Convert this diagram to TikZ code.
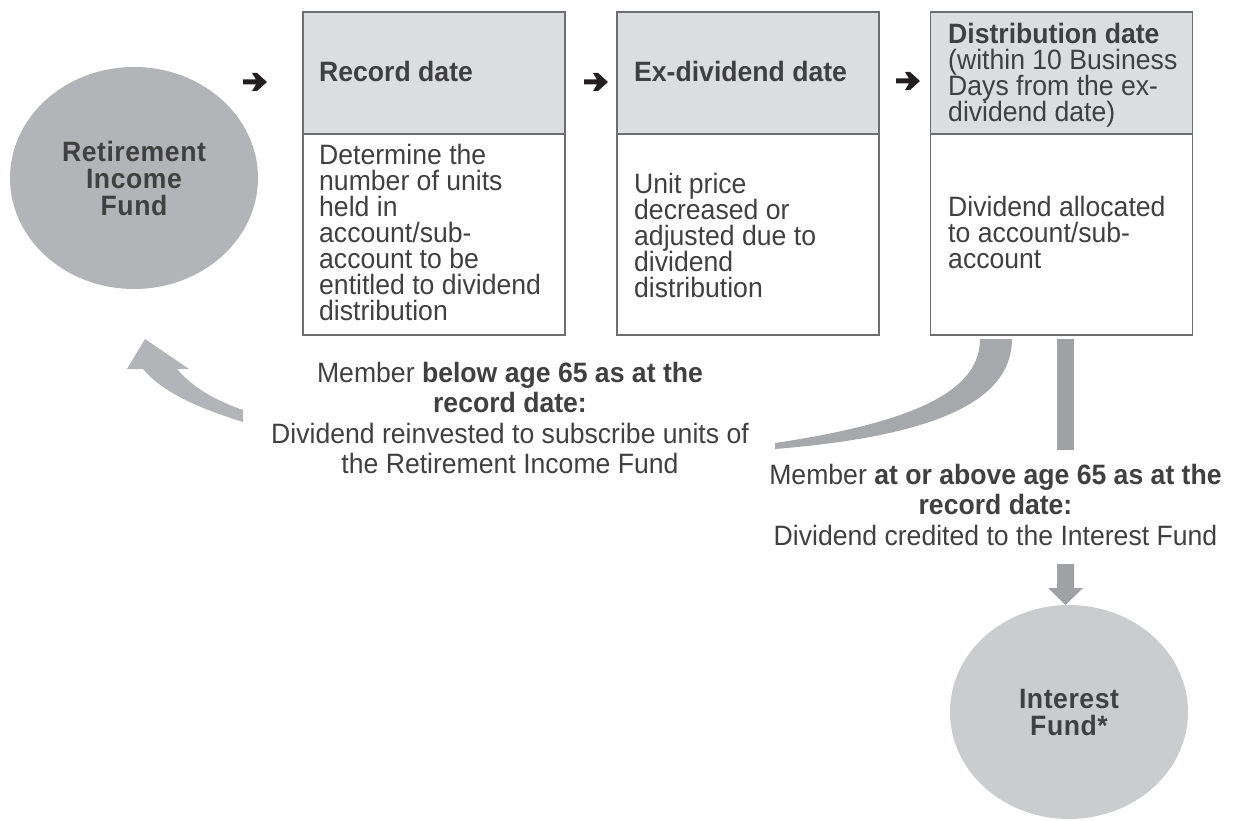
\documentclass[tikz,border=0pt]{standalone}
\usepackage{fontspec}
\setmainfont{Liberation Sans}[FakeStretch=0.95]
\newfontfamily\circfont{Liberation Sans}[FakeStretch=0.95, LetterSpace=2]
\usetikzlibrary{shapes.geometric}
\definecolor{txt}{HTML}{404041}
\definecolor{boxline}{HTML}{6D6E71}
\definecolor{hdrfill}{HTML}{DCDDDF}
\definecolor{rifgray}{HTML}{B3B4B7}
\definecolor{ifgray}{HTML}{CBCCCD}
\definecolor{bandgray}{HTML}{A7A8AB}
\definecolor{bargray}{HTML}{A0A1A4}
\definecolor{arrowblack}{HTML}{231F20}
\lineskiplimit=-100pt
\tikzset{
  hdrbox/.style={draw=boxline, line width=1.3pt, fill=hdrfill, minimum width=262pt, minimum height=122pt, inner sep=0pt},
  bodybox/.style={draw=boxline, line width=1.3pt, fill=white, minimum width=262pt, minimum height=201pt, inner sep=0pt},
  hdrtext/.style={text=txt, inner sep=0pt, align=left, font=\fontsize{28}{26}\selectfont},
  bodytext/.style={text=txt, inner sep=0pt, align=left, font=\fontsize{28}{26}\selectfont},
  fundcircle/.style={ellipse, inner sep=0pt, text=txt, align=center, font=\circfont\fontsize{28}{27}\selectfont\bfseries},
  notetext/.style={text=txt, inner sep=0pt, align=center, font=\fontsize{28}{30.5}\selectfont},
}
\begin{document}
\begin{tikzpicture}[x=1pt,y=-1pt]
\useasboundingbox (0,0) rectangle (1245,821);
% circles
\node[fundcircle, fill=rifgray, minimum width=248pt, minimum height=222pt] (rif) at (134,178) {Retirement\\Income\\Fund};
\node[fundcircle, fill=ifgray, minimum width=238pt, minimum height=214pt] (if) at (1069,712) {Interest\\Fund*};
% boxes
\node[bodybox] (b1) at (434,234.5) {};
\node[hdrbox] (h1) at (434,73) {};
\node[bodybox] (b2) at (748,234.5) {};
\node[hdrbox] (h2) at (748,73) {};
\node[bodybox] (b3) at (1061.5,234.5) {};
\node[hdrbox] (h3) at (1061.5,73) {};
% header texts
\node[hdrtext, anchor=base west] (t1) at (319,82) {\bfseries Record date};
\node[hdrtext, anchor=base west] (t2) at (634,82) {\bfseries Ex-dividend date};
\node[hdrtext, anchor=north west] (t3) at (948,23) {\textbf{Distribution date}\\(within 10 Business\\Days from the ex-\\dividend date)};
% body texts
\node[bodytext, anchor=north west] (d1) at (319,144) {Determine the\\number of units\\held in\\account/sub-\\account to be\\entitled to dividend\\distribution};
\node[bodytext, anchor=north west] (d2) at (634,173) {Unit price\\decreased or\\adjusted due to\\dividend\\distribution};
\node[bodytext, anchor=north west] (d3) at (948,196) {Dividend allocated\\to account/sub-\\account};
% small black arrows
\foreach \cx/\cy in {255/82, 596/82, 908/81}{
  \fill[arrowblack, shift={(\cx,\cy)}] (-12,-2.5) -- (1,-2.5) -- (-3,-9) -- (2,-9) -- (12,0) -- (2,9) -- (-3,9) -- (1,2.5) -- (-12,2.5) -- cycle;
}
% notes
\node[notetext, anchor=north] (n1) at (510,362) {Member \textbf{below age 65 as at the}\\\textbf{record date:}\\Dividend reinvested to subscribe units of\\the Retirement Income Fund};
\node[notetext, anchor=north] (n2) at (995.5,464) {Member \textbf{at or above age 65 as at the}\\\textbf{record date:}\\Dividend credited to the Interest Fund};
% curved band from distribution box to note 1
\fill[bandgray] (980,339) .. controls (980,385) and (930,420) .. (775,443) -- (775,449) .. controls (950,435) and (1012,395) .. (1012,339) -- cycle;
% arrow back to retirement income fund
\fill[rifgray] (145,339) -- (189,369) -- (177,369) .. controls (195,390) and (220,402) .. (243,410) -- (243,422) .. controls (205,410) and (165,395) .. (143,369) -- (127,369) -- cycle;
% vertical bar and down arrow
\fill[bargray] (1057,339) rectangle (1074,450);
\fill[bargray] (1057,564) -- (1074,564) -- (1074,588) -- (1083,588) -- (1065.5,605) -- (1048,588) -- (1057,588) -- cycle;
\end{tikzpicture}
\end{document}
